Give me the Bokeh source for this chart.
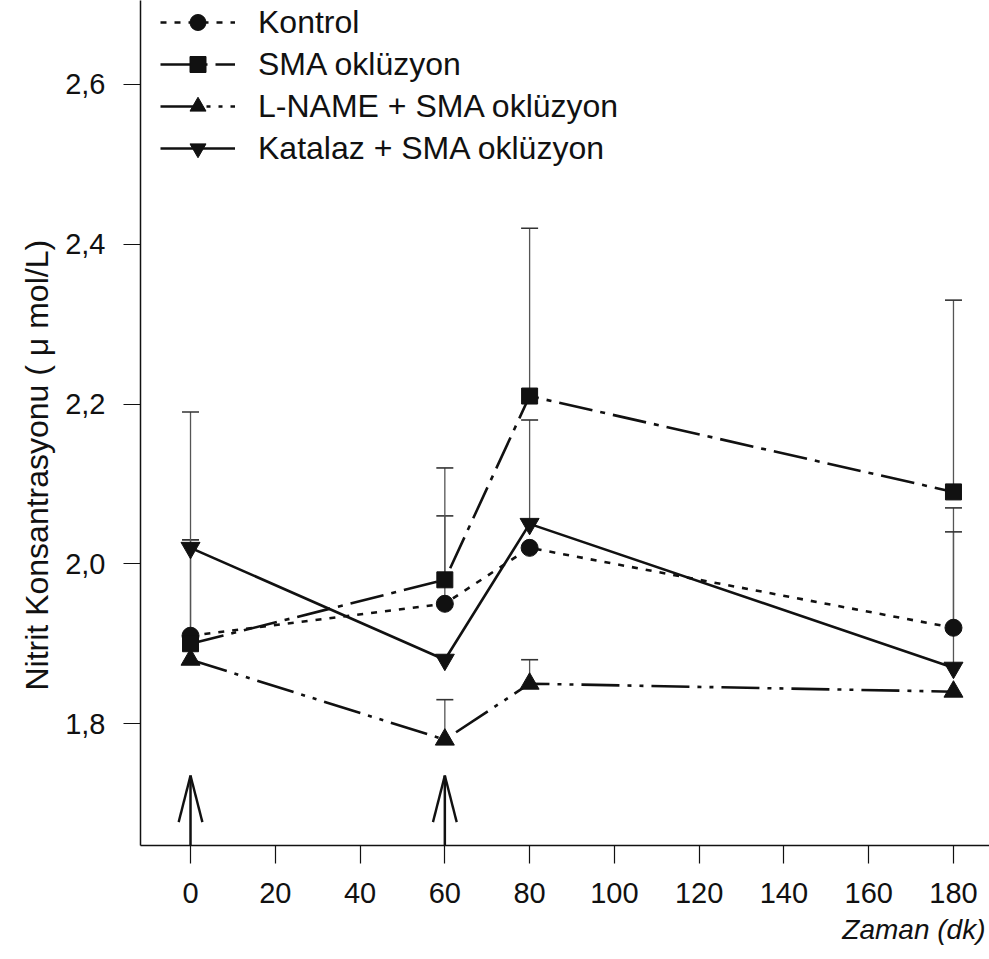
import math
from bokeh.plotting import figure
from bokeh.models import FixedTicker, Legend, LegendItem, Title
from bokeh.embed import file_html
from bokeh.resources import INLINE

# ---- data ----
times = [0, 60, 80, 180]
kontrol = [1.91, 1.95, 2.02, 1.92]
sma = [1.90, 1.98, 2.21, 2.09]
lname = [1.88, 1.78, 1.85, 1.84]
katalaz = [2.02, 1.88, 2.05, 1.87]

nan = float("nan")
kontrol_upper = [2.03, 2.06, nan, 2.07]
sma_upper = [2.19, 2.12, 2.42, 2.33]
lname_upper = [nan, 1.83, 1.88, nan]
katalaz_upper = [nan, nan, 2.18, 2.04]

x_ticks = [0, 20, 40, 60, 80, 100, 120, 140, 160, 180]
y_ticks = [1.8, 2.0, 2.2, 2.4, 2.6]
y_tick_labels = ["1,8", "2,0", "2,2", "2,4", "2,6"]

arrow_times = [0, 60]
arrow_tip = 1.735

series_names = ["Kontrol", "SMA oklüzyon", "L-NAME + SMA oklüzyon", "Katalaz + SMA oklüzyon"]

FONT = "Liberation Sans"
Y_START, Y_END = 1.6475, 2.705
FRAME_H = 845

p = figure(width=989, height=958, x_range=(-11.8, 188.5), y_range=(Y_START, Y_END),
           output_backend="svg", toolbar_location=None,
           min_border_left=140, min_border_right=0, min_border_top=0, min_border_bottom=958 - FRAME_H)
p.outline_line_color = None
p.xgrid.visible = False
p.ygrid.visible = False
p.background_fill_color = "white"

# axes
for ax in (p.xaxis[0], p.yaxis[0]):
    ax.major_tick_in = 0
    ax.minor_tick_line_color = None
    ax.axis_line_color = "#111111"
    ax.major_tick_line_color = "#111111"
    ax.axis_line_width = 1.5
    ax.major_tick_line_width = 1.2
    ax.major_label_text_font = FONT
    ax.major_label_text_color = "#111111"
    ax.major_label_text_font_size = "29px"

p.xaxis.ticker = FixedTicker(ticks=x_ticks)
p.xaxis.major_tick_out = 18
p.xaxis.major_label_standoff = 19

p.yaxis.ticker = FixedTicker(ticks=y_ticks)
p.yaxis.major_label_overrides = {t: l for t, l in zip(y_ticks, y_tick_labels)}
p.yaxis.major_tick_out = 17
p.yaxis.major_label_standoff = 18

p.add_layout(Title(text="Nitrit Konsantrasyonu ( μ mol/L)", align="left", offset=155,
                   text_font=FONT, text_font_size="32px", text_font_style="normal",
                   text_color="#111111", standoff=16), "left")

p.add_layout(Title(text="Zaman (dk)", align="right", offset=4, text_font=FONT, text_font_size="28px",
                   text_font_style="italic", text_color="#111111", standoff=12), "below")

# error bars (upper only)
uppers = [kontrol_upper, sma_upper, lname_upper, katalaz_upper]
values = [kontrol, sma, lname, katalaz]
for vals, ups in zip(values, uppers):
    xs = [t for t, u in zip(times, ups) if not math.isnan(u)]
    y0 = [v for v, u in zip(vals, ups) if not math.isnan(u)]
    y1 = [u for u in ups if not math.isnan(u)]
    p.segment(x0=xs, y0=y0, x1=xs, y1=y1, line_color="#555555", line_width=1.3)
    p.scatter(x=xs, y=y1, marker="dash", size=17, line_color="#333333", line_width=1.6)

# arrows
p.segment(x0=arrow_times, y0=[Y_START] * len(arrow_times), x1=arrow_times,
          y1=[arrow_tip] * len(arrow_times), line_color="#111111", line_width=2.5)
for ang in (-math.pi / 2 + 0.25, -math.pi / 2 - 0.25):
    p.ray(x=arrow_times, y=[arrow_tip] * len(arrow_times), length=48, length_units="screen",
          angle=ang, line_color="#111111", line_width=2.4)

styles = [
    dict(dash="6 8", marker="circle", size=17),
    dict(dash="34 8 5 8", marker="square", size=16),
    dict(dash="38 8 4 8 4 8", marker="triangle", size=19),
    dict(dash="solid", marker="inverted_triangle", size=19),
]

items = []
for name, vals, st in zip(series_names, values, styles):
    ln = p.line(times, vals, line_color="#111111", line_width=2.6, line_dash=st["dash"])
    mk = p.scatter(times, vals, marker=st["marker"], size=st["size"],
                   fill_color="#111111", line_color="#111111")
    items.append(LegendItem(label=name, renderers=[ln, mk]))

legend = Legend(items=items, location=(20, FRAME_H - 168), margin=0, padding=0,
                glyph_width=75, glyph_height=40, label_height=40, spacing=2,
                label_standoff=23, border_line_color=None, background_fill_alpha=0,
                label_text_font=FONT, label_text_font_size="32px", label_text_color="#111111")
p.add_layout(legend)

open("out.html", "w").write(file_html(p, INLINE))
